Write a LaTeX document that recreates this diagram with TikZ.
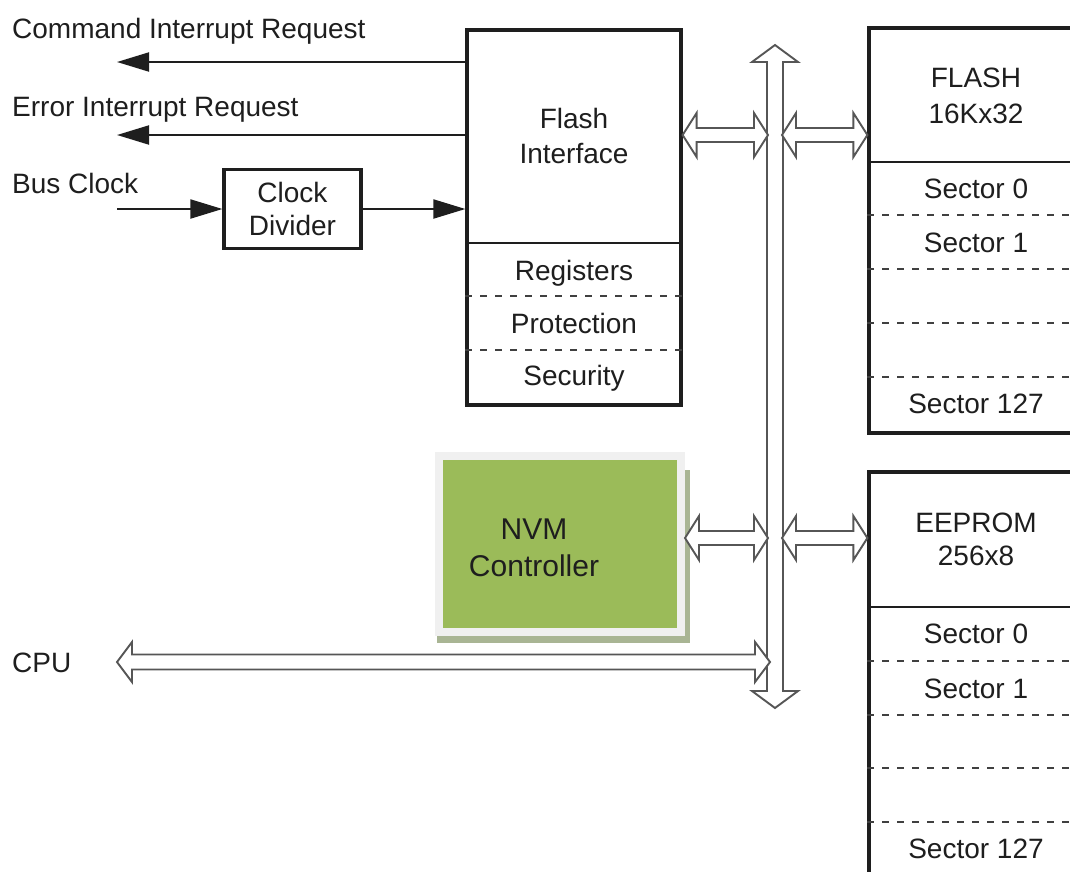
\documentclass[tikz,border=0pt]{standalone}
\usepackage{fontspec}
\setmainfont{Liberation Sans}
\usepackage{tikz}
\usetikzlibrary{arrows.meta,calc}

\definecolor{ink}{HTML}{1E1E1E}
\definecolor{nvmgreen}{HTML}{9BBB59}
\definecolor{nvmframe}{HTML}{F0F0F0}
\definecolor{nvmshade}{HTML}{A9B594}

% hollow double-headed bus arrow: from, to, shaft half width, head half width, head length
\newcommand\hollow[5]{%
  \coordinate (h1) at ($(#1)!#5!(#2)$);
  \coordinate (h2) at ($(#2)!#5!(#1)$);
  \draw[hol] (#1) -- ($(h1)!#4!90:(#2)$) -- ($(h1)!#3!90:(#2)$)
    -- ($(h2)!#3!-90:(#1)$) -- ($(h2)!#4!-90:(#1)$) -- (#2)
    -- ($(h2)!#4!90:(#1)$) -- ($(h2)!#3!90:(#1)$)
    -- ($(h1)!#3!-90:(#2)$) -- ($(h1)!#4!-90:(#2)$) -- cycle;
}

\begin{document}
\begin{tikzpicture}[x=1pt, y=-1pt, >={Triangle[length=32pt, width=19pt]},
    blk/.style={draw=ink, line width=3.2pt, inner sep=0pt, fill=white},
    lbl/.style={font=\fontsize{28}{33}\selectfont, text=ink, inner sep=0pt},
    sig/.style={->, draw=ink, line width=2pt},
    div/.style={draw=ink, line width=2pt},
    sep/.style={draw=ink!85, line width=2.4pt, dash pattern=on 7pt off 8pt},
    hol/.style={draw=ink!75, line width=1.9pt, fill=white, line join=miter}]
  \clip (0,0) rectangle (1070,871);

  % blocks
  \node[blk, minimum width=214, minimum height=375] (fi) at (574,217.5) {};
  \node[blk, lbl, align=center, minimum width=137, minimum height=79] (clk) at (292.5,209) {Clock\\Divider};
  \node[blk, minimum width=214, minimum height=405] (flash) at (976,230.5) {};
  \node[blk, minimum width=214, minimum height=420] (ee) at (976,682) {};

  % NVM controller with frame and shade
  \fill[nvmshade] (437,470) rectangle (690,643);
  \node[fill=nvmgreen, draw=nvmframe, line width=8pt, minimum width=242, minimum height=176] (nvm) at (560,544) {};
  \node[font=\fontsize{30}{37}\selectfont, text=ink, align=center, inner sep=0pt] (nvmtxt) at (534,548) {NVM\\Controller};

  % flash interface
  \node[lbl, anchor=base] (fi1) at (574,128) {Flash};
  \node[lbl, anchor=base] (fi2) at (574,163) {Interface};
  \draw[div] (fi.west |- 0,243) -- (fi.east |- 0,243);
  \node[lbl, anchor=base] (reg) at (574,280) {Registers};
  \node[lbl, anchor=base] (prot) at (574,333) {Protection};
  \node[lbl, anchor=base] (sec) at (574,385) {Security};
  \foreach \y in {296,350}
    \draw[sep] (fi.west |- 0,\y) -- (fi.east |- 0,\y);

  % flash array
  \node[lbl, anchor=base] (fl1) at (976,87) {FLASH};
  \node[lbl, anchor=base] (fl2) at (976,123) {16Kx32};
  \draw[div] (flash.west |- 0,162) -- (flash.east |- 0,162);
  \node[lbl, anchor=base] (fs0) at (976,198) {Sector 0};
  \node[lbl, anchor=base] (fs1) at (976,252) {Sector 1};
  \node[lbl, anchor=base] (fs127) at (976,413) {Sector 127};
  \foreach \y in {215,269,323,377}
    \draw[sep] (flash.west |- 0,\y) -- (flash.east |- 0,\y);

  % eeprom array
  \node[lbl, anchor=base] (ee1) at (976,532) {EEPROM};
  \node[lbl, anchor=base] (ee2) at (976,565) {256x8};
  \draw[div] (ee.west |- 0,607) -- (ee.east |- 0,607);
  \node[lbl, anchor=base] (es0) at (976,643) {Sector 0};
  \node[lbl, anchor=base] (es1) at (976,698) {Sector 1};
  \node[lbl, anchor=base] (es127) at (976,858) {Sector 127};
  \foreach \y in {661,715,768,822}
    \draw[sep] (ee.west |- 0,\y) -- (ee.east |- 0,\y);

  % signals on the left
  \coordinate (cmd) at (117,62);
  \coordinate (err) at (117,135);
  \coordinate (clkin) at (117,209);
  \node[lbl, anchor=base west] (cmdtxt) at (12,38) {Command Interrupt Request};
  \node[lbl, anchor=base west] (errtxt) at (12,116) {Error Interrupt Request};
  \node[lbl, anchor=base west] (clktxt) at (12,193) {Bus Clock};
  \draw[sig] (fi.west |- cmd) -- (cmd);
  \draw[sig] (fi.west |- err) -- (err);
  \draw[sig] (clkin) -- (clk.west);
  \draw[sig] (clk.east) -- (fi.west |- clk.east);

  % internal bus
  \coordinate (bustop) at (775,45);
  \coordinate (busbot) at (775,708);
  \hollow{bustop}{busbot}{8pt}{23pt}{17pt}
  \coordinate (bl1) at (768,135);
  \coordinate (br1) at (782,135);
  \coordinate (bl2) at (768,538);
  \coordinate (br2) at (782,538);
  \coordinate (bl3) at (770,662);
  \coordinate (cpu) at (117,662);
  \hollow{fi.east |- bl1}{bl1}{7pt}{22pt}{14pt}
  \hollow{br1}{flash.west |- br1}{7pt}{22pt}{14pt}
  \hollow{nvm.east |- bl2}{bl2}{7pt}{22pt}{14pt}
  \hollow{br2}{ee.west |- br2}{7pt}{22pt}{14pt}
  \hollow{cpu}{bl3}{7.5pt}{20pt}{15pt}
  \node[lbl, anchor=base west] (cputxt) at (12,672) {CPU};
\end{tikzpicture}
\end{document}
